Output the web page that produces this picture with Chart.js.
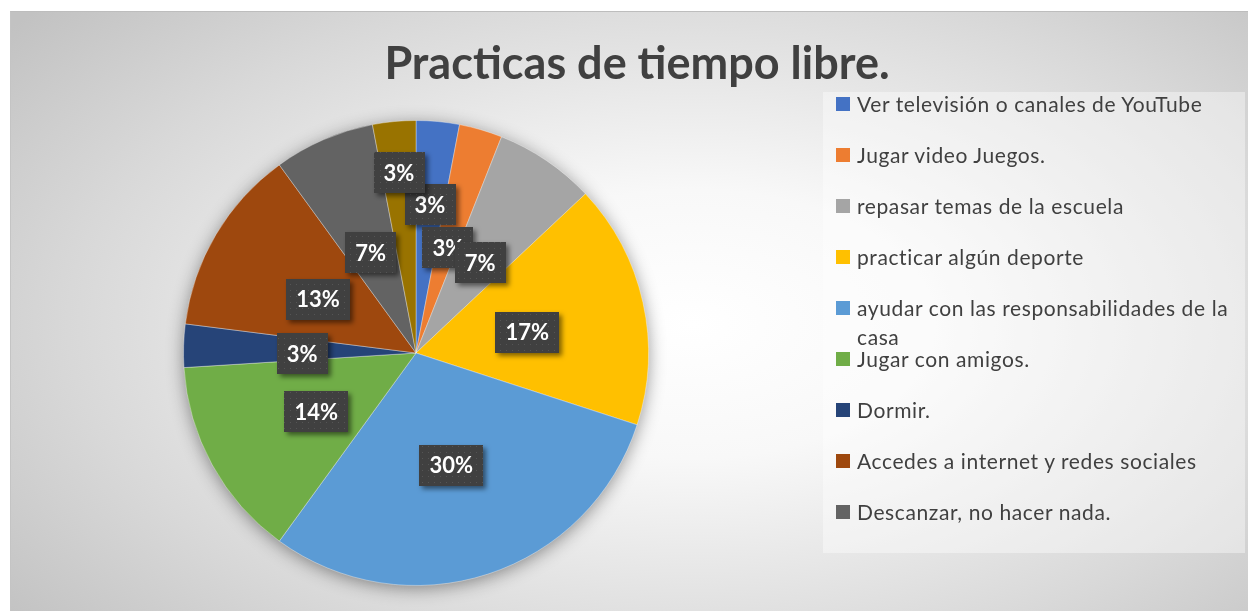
<!DOCTYPE html>
<html>
<head>
<meta charset="utf-8">
<script src="https://cdn.jsdelivr.net/npm/chart.js@4.4.1/dist/chart.umd.min.js"></script>
<style>
  body { margin: 0; width: 1248px; height: 611px; background: #fff; overflow: hidden; font-family: Lato, "Open Sans", sans-serif; }
  #frame {
    position: absolute; left: 10px; top: 11px; width: 1238px; height: 600px;
    border-top: 1px solid #bdbdbd; border-left: 1px solid #c4c4c4;
    background: radial-gradient(ellipse 70% 80% at 55% 52%, #ffffff 0%, #f8f8f8 28%, #d8d8d8 72%, #c2c2c2 100%);
  }
  #chart { position: absolute; left: 0; top: 0; }
  #title {
    position: absolute; left: 337px; width: 600px; top: 35px; text-align: center;
    font: bold 45px Lato, sans-serif; color: #404040;
  }
  #legend {
    position: absolute; left: 823px; top: 92px; width: 422px; height: 461px;
    background: rgba(255,255,255,0.4);
  }
  .item { position: absolute; left: 0; width: 420px; padding-left: 34px; box-sizing: border-box;
    font-size: 21px; letter-spacing: 0.6px; line-height: 29px; color: #404040; }
  .sw { position: absolute; left: 13px; top: 8px; width: 14px; height: 14px; }
</style>
</head>
<body>
<div id="frame"></div>
<canvas id="chart" width="1248" height="611"></canvas>
<div id="title">Practicas de tiempo libre.</div>
<div id="legend"></div>
<script>
const chartTitle = 'Practicas de tiempo libre.';
const categories = [
  'Ver televisión o canales de YouTube',
  'Jugar video Juegos.',
  'repasar temas de la escuela',
  'practicar algún deporte',
  'ayudar con las responsabilidades de la casa',
  'Jugar con amigos.',
  'Dormir.',
  'Accedes a internet y redes sociales',
  'Descanzar, no hacer nada.',
  'Otros'
];
const percentValues = [3, 3, 7, 17, 30, 14, 3, 13, 7, 3];
const sliceColors = ['#4472C4', '#ED7D31', '#A5A5A5', '#FFC000', '#5B9BD5', '#70AD47', '#264478', '#9E480E', '#636363', '#997300'];
// the reference legend is cut off after the 9th entry
const legendCount = 9;

// legend (html so the long entry can wrap like the original)
const legendEl = document.getElementById('legend');
for (let i = 0; i < legendCount; i++) {
  const it = document.createElement('div');
  it.className = 'item';
  it.style.top = (i * 51 - 3) + 'px';
  const sw = document.createElement('span');
  sw.className = 'sw';
  sw.style.background = sliceColors[i];
  it.appendChild(sw);
  it.appendChild(document.createTextNode(categories[i]));
  legendEl.appendChild(it);
}

function dotPattern(ctx) {
  const c = document.createElement('canvas');
  c.width = 6; c.height = 6;
  const p = c.getContext('2d');
  p.fillStyle = '#404040';
  p.fillRect(0, 0, 6, 6);
  p.fillStyle = '#555555';
  p.fillRect(2, 2, 1, 1);
  return ctx.createPattern(c, 'repeat');
}

const pieShadow = {
  id: 'pieShadow',
  beforeDatasetsDraw(chart) {
    const arc = chart.getDatasetMeta(0).data[0];
    if (!arc) return;
    const ctx = chart.ctx;
    ctx.save();
    ctx.shadowColor = 'rgba(0,0,0,0.45)';
    ctx.shadowBlur = 18;
    ctx.shadowOffsetY = 3;
    ctx.fillStyle = '#888';
    ctx.beginPath();
    ctx.arc(arc.x, arc.y, arc.outerRadius - 1, 0, Math.PI * 2);
    ctx.fill();
    ctx.restore();
  }
};

const boxLabels = {
  id: 'boxLabels',
  afterDatasetsDraw(chart, args, opts) {
    const ctx = chart.ctx;
    const meta = chart.getDatasetMeta(0);
    const data = chart.data.datasets[0].data;
    const total = data.reduce((a, b) => a + b, 0);
    const pat = dotPattern(ctx);
    ctx.save();
    ctx.font = 'bold 22px Lato, sans-serif';
    ctx.textAlign = 'center';
    ctx.textBaseline = 'middle';
    meta.data.forEach((arc, i) => {
      const mid = (arc.startAngle + arc.endAngle) / 2;
      const f = opts.radiusFactor[i] || opts.defaultFactor;
      const r = arc.outerRadius * f;
      const x = arc.x + Math.cos(mid) * r;
      const y = arc.y + Math.sin(mid) * r + (opts.radiusFactor[i] ? 0 : 4);
      const txt = Math.round(data[i] / total * 100) + '%';
      const w = ctx.measureText(txt).width + 20;
      const h = 41;
      ctx.save();
      ctx.shadowColor = 'rgba(0,0,0,0.5)';
      ctx.shadowBlur = 5;
      ctx.shadowOffsetX = 3;
      ctx.shadowOffsetY = 3;
      ctx.fillStyle = pat;
      ctx.fillRect(Math.round(x - w / 2), Math.round(y - h / 2), Math.round(w), h);
      ctx.restore();
      ctx.fillStyle = '#ffffff';
      ctx.fillText(txt, x, y + 1);
    });
    ctx.restore();
  }
};

new Chart('chart', {
  type: 'pie',
  data: {
    labels: categories,
    datasets: [{
      data: percentValues,
      backgroundColor: sliceColors,
      borderColor: 'rgba(255,255,255,0.35)',
      borderWidth: 1
    }]
  },
  options: {
    responsive: false,
    animation: false,
    layout: { padding: { left: 183, top: 120, right: 599, bottom: 25 } },
    plugins: {
      legend: { display: false },
      tooltip: { enabled: false },
      title: { display: false, text: chartTitle },
      boxLabels: { defaultFactor: 0.49, radiusFactor: { 0: 0.64, 9: 0.78 } }
    }
  },
  plugins: [pieShadow, boxLabels]
});
</script>
</body>
</html>
